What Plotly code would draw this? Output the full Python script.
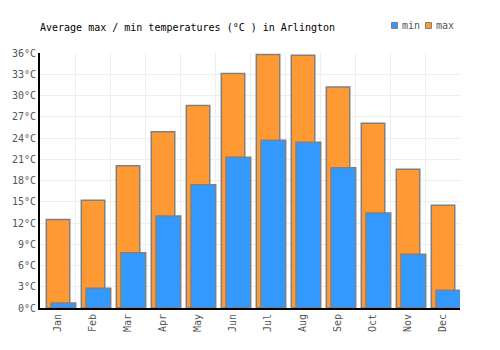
import plotly.graph_objects as go

months = ["Jan", "Feb", "Mar", "Apr", "May", "Jun", "Jul", "Aug", "Sep", "Oct", "Nov", "Dec"]
temp_max = [12.5, 15.2, 20.1, 24.9, 28.6, 33.1, 35.8, 35.7, 31.2, 26.1, 19.6, 14.5]
temp_min = [0.7, 2.8, 7.8, 13.0, 17.4, 21.3, 23.7, 23.4, 19.8, 13.4, 7.6, 2.5]
y_ticks = list(range(0, 37, 3))

FONT = "DejaVu Sans Mono"
C_MAX = "#FF9933"
C_MIN = "#3399FF"
C_EDGE = "#808080"

fig = go.Figure()
fig.add_trace(go.Bar(
    x=months, y=temp_max, name="max",
    marker=dict(color=C_MAX, line=dict(color=C_EDGE, width=1.5)),
    offset=-0.32, width=0.67,
))
fig.add_trace(go.Bar(
    x=months, y=temp_min, name="min",
    marker=dict(color=C_MIN, line=dict(color=C_EDGE, width=1.5)),
    offset=-0.186, width=0.706,
))

L, R, T, B = 40, 460, 53, 308
def px_x(p):
    return (p - L) / (R - L)
def px_y(p):
    return (B - p) / (B - T)

shapes = []
annotations = []
for (x0, label, color) in [(391.5, "min", C_MIN), (425.5, "max", C_MAX)]:
    shapes.append(dict(type="rect", xref="paper", yref="paper",
                       x0=px_x(x0), x1=px_x(x0 + 6), y0=px_y(28.5), y1=px_y(22.5),
                       fillcolor=color, line=dict(color=C_EDGE, width=1)))
    annotations.append(dict(xref="paper", yref="paper", x=px_x(x0 + 8), y=px_y(25.5),
                            xanchor="left", yanchor="middle", text=label, showarrow=False,
                            font=dict(family=FONT, size=10, color="#555555")))

fig.update_layout(
    width=500, height=350,
    margin=dict(l=40, r=40, t=53, b=42, autoexpand=False),
    paper_bgcolor="white", plot_bgcolor="white",
    barmode="overlay",
    font=dict(family=FONT, size=10, color="#555555"),
    title=dict(
        text="Average max / min temperatures (°C ) in Arlington",
        x=40/500, xref="container", xanchor="left",
        y=1-27/350, yref="container", yanchor="middle",
        font=dict(family=FONT, size=10, color="#000000"),
    ),
    showlegend=False,
    shapes=shapes,
    annotations=annotations,
)
fig.update_xaxes(
    type="category", range=[-0.5, 11.5],
    tickson="boundaries", showgrid=True, gridcolor="#EEEEEE", gridwidth=1,
    showline=True, linecolor="#000000", linewidth=2,
    ticks="", tickangle=-90, tickfont=dict(family=FONT, size=10, color="#555555"),
)
fig.update_yaxes(
    range=[0, 36], tickvals=y_ticks, ticktext=[f"{v}°C" for v in y_ticks],
    showgrid=True, gridcolor="#EEEEEE", gridwidth=1,
    showline=True, linecolor="#000000", linewidth=2, zeroline=False,
    ticks="", tickfont=dict(family=FONT, size=10, color="#555555"),
)

fig.write_html("out.html")
